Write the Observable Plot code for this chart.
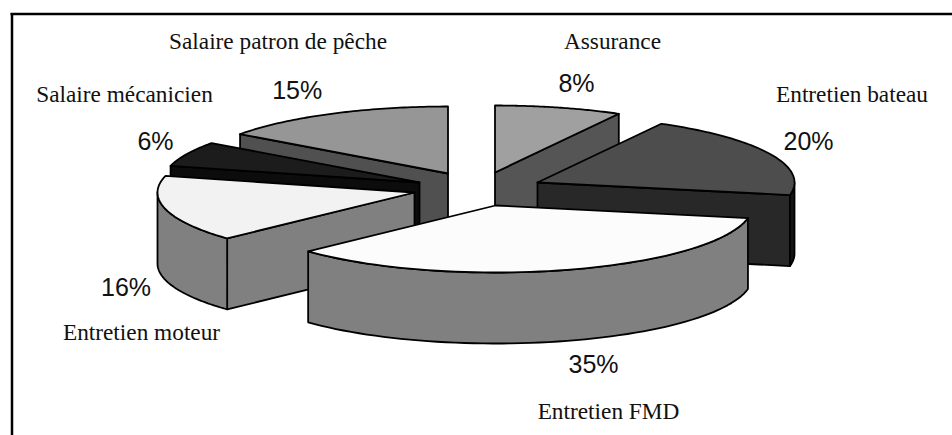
<!DOCTYPE html>
<html lang="fr">
<head>
<meta charset="utf-8">
<script src="https://cdn.jsdelivr.net/npm/d3@7"></script>
<script src="https://cdn.jsdelivr.net/npm/@observablehq/plot@0.6"></script>
<style>html,body{margin:0;padding:0;background:#fff}svg{display:block}</style>
</head>
<body>
<div id="chart"></div>
<script>
// Data, clockwise from twelve o'clock
const categories = ["Assurance", "Entretien bateau", "Entretien FMD", "Entretien moteur", "Salaire mécanicien", "Salaire patron de pêche"];
const shares = [8, 20, 35, 16, 6, 15];

// Styles, one per category
const topColors = ["#a0a0a0", "#4d4d4d", "#fcfcfc", "#f2f2f2", "#1c1c1c", "#969696"];
const wallColors = ["#555555", "#282828", "#808080", "#808080", "#0c0c0c", "#505050"];
const rimColors = ["#555555", "#141414", "#808080", "#808080", "#0c0c0c", "#505050"];

// Layout: where each exploded slice's apex sits, and where its two labels go
const apexX = [494.5, 537, 495, 414, 419, 447.5];
const apexY = [172, 182, 205, 192, 182, 173];
const drawOrder = [5, 4, 3, 0, 1, 2];
const radiusX = 257, radiusY = 67, depth = 71;
const nameX = [612, 851.5, 608, 141, 124, 277.5];
const nameY = [48, 101, 418, 339, 101, 48];
const pctX = [576, 808, 593, 125.5, 155, 296.7];
const pctY = [91, 149, 372, 295, 149, 98];

// Slice angles from the shares
const total = d3.sum(shares);
const ends = d3.cumsum(shares).map(v => v / total * 2 * Math.PI);
const starts = ends.map((_, i) => (i ? ends[i - 1] : 0));

const rimPoint = (i, a, dz = 0) => ({
  x: apexX[i] + radiusX * Math.sin(a),
  y: apexY[i] - radiusY * Math.cos(a) + dz
});
const arc = (i, a0, a1, dz = 0) =>
  d3.range(61).map(k => rimPoint(i, a0 + (a1 - a0) * k / 60, dz));

const polys = [];
const addPoly = (pts, color) => {
  const id = polys.length ? polys[polys.length - 1].id + 1 : 0;
  [...pts, pts[0]].forEach(p => polys.push({...p, id, color}));
};

for (const i of drawOrder) {
  const a0 = starts[i], a1 = ends[i];
  const apex = {x: apexX[i], y: apexY[i]};
  const wall = a => {
    const r = rimPoint(i, a);
    addPoly([apex, r, {x: r.x, y: r.y + depth}, {x: apex.x, y: apex.y + depth}], wallColors[i]);
  };
  if (Math.sin(a0) < 0) wall(a0);
  if (Math.sin(a1) > 0) wall(a1);
  const lo = Math.max(a0, Math.PI / 2), hi = Math.min(a1, 3 * Math.PI / 2);
  if (lo < hi) addPoly([...arc(i, lo, hi), ...arc(i, hi, lo, depth)], rimColors[i]);
  addPoly([apex, ...arc(i, a0, a1)], topColors[i]);
}

const labels = categories.map((name, i) => ({
  name, pct: `${shares[i]}%`, nx: nameX[i], ny: nameY[i], px: pctX[i], py: pctY[i]
}));

const chart = Plot.plot({
  width: 952, height: 435,
  margin: 0,
  x: {domain: [0, 952], range: [0, 952], axis: null},
  y: {domain: [0, 435], range: [0, 435], axis: null},
  color: {type: "identity"},
  marks: [
    Plot.ruleX([11.5], {y1: 13, y2: 435, stroke: "#000", strokeWidth: 2.5}),
    Plot.ruleY([13.5], {x1: 10.5, x2: 952, stroke: "#000", strokeWidth: 2.5}),
    Plot.line(polys, {x: "x", y: "y", z: "id", fill: "color", stroke: "#000", strokeWidth: 1.8, strokeLinejoin: "round"}),
    Plot.text(labels, {x: "nx", y: "ny", text: "name", textAnchor: "middle", lineAnchor: "bottom", fontFamily: "Liberation Serif", fontSize: 23.3, fill: "#111"}),
    Plot.text(labels, {x: "px", y: "py", text: "pct", textAnchor: "middle", lineAnchor: "bottom", fontFamily: "Liberation Sans", fontSize: 25, fill: "#111"})
  ]
});
document.getElementById("chart").append(chart);
</script>
</body>
</html>
